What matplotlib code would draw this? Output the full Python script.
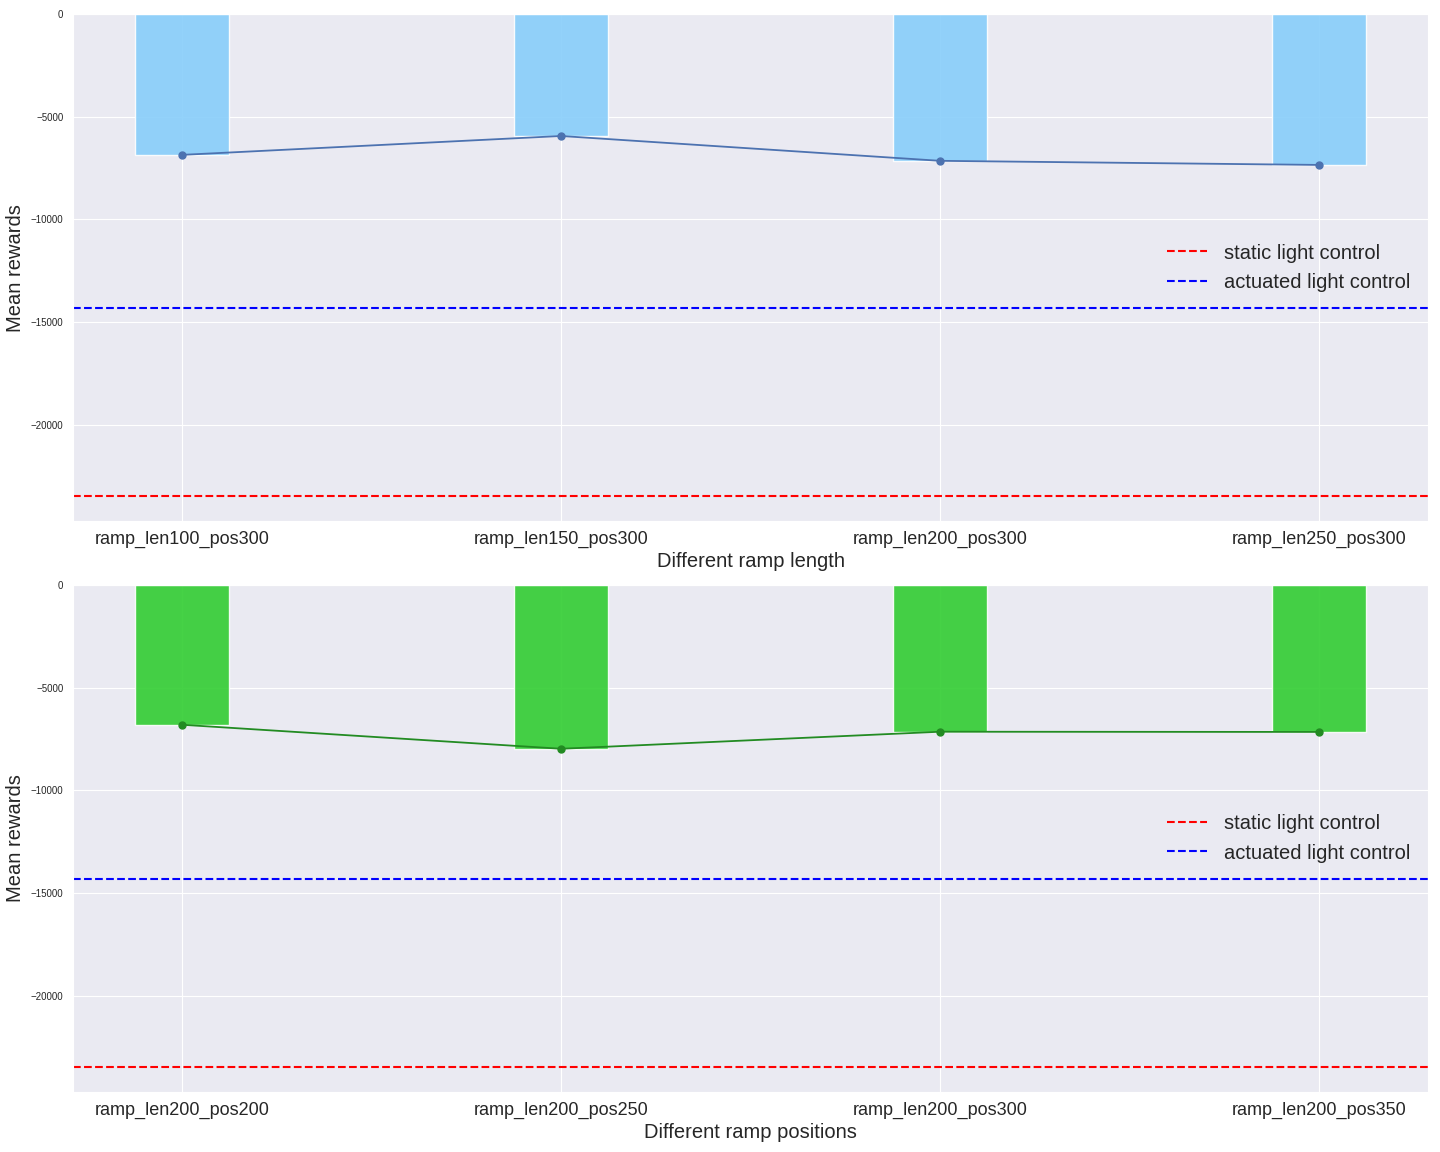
import numpy as np
import matplotlib
matplotlib.use('Agg')
import matplotlib.pyplot as plt
import seaborn as sns

sns.set_style('darkgrid')
plt.rcParams['font.family'] = ['Liberation Sans', 'DejaVu Sans']

len_labels = ['ramp_len100_pos300', 'ramp_len150_pos300', 'ramp_len200_pos300', 'ramp_len250_pos300']
len_rewards = [-6860, -5940, -7150, -7350]

pos_labels = ['ramp_len200_pos200', 'ramp_len200_pos250', 'ramp_len200_pos300', 'ramp_len200_pos350']
pos_rewards = [-6810, -7980, -7150, -7160]

static_reward = -23500
actuated_reward = -14330

fig, axes = plt.subplots(2, 1, figsize=(14.4, 11.52), dpi=100)

panels = [
    (axes[0], len_labels, len_rewards, 'lightskyblue', '#4C72B0', 'Different ramp length'),
    (axes[1], pos_labels, pos_rewards, 'limegreen', 'forestgreen', 'Different ramp positions'),
]

for ax, labels, rewards, bar_c, line_c, xlab in panels:
    x = np.arange(len(labels))
    ax.bar(x, rewards, width=0.25, color=bar_c, alpha=0.9, edgecolor='white')
    ax.plot(x, rewards, marker='o', color=line_c, markersize=5, linewidth=1.3)
    ax.axhline(static_reward, color='red', linestyle='--', linewidth=1.5, label='static light control')
    ax.axhline(actuated_reward, color='blue', linestyle='--', linewidth=1.5, label='actuated light control')
    ax.set_xticks(x)
    ax.set_xticklabels(labels, fontsize=13)
    ax.tick_params(axis='y', labelsize=7)
    ax.set_ylim(-24700, 0)
    ax.set_xlabel(xlab, fontsize=14.5, labelpad=3)
    ax.set_ylabel('Mean rewards', fontsize=14.5)
    ax.legend(loc='center right', fontsize=14.5, frameon=False)

plt.subplots_adjust(left=0.0507, right=0.9917, top=0.9878, bottom=0.0521, hspace=0.126)
plt.savefig('out.png')
